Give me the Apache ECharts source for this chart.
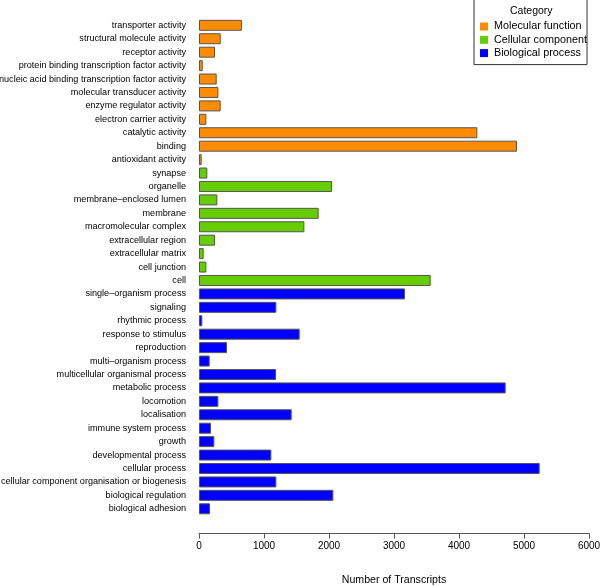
<!DOCTYPE html>
<html>
<head>
<meta charset="utf-8">
<script src="https://cdn.jsdelivr.net/npm/echarts@6/dist/echarts.min.js"></script>
<style>html,body{margin:0;padding:0;background:#fff}#c{width:600px;height:586px}</style>
</head>
<body>
<div id="c"></div>
<script>
const mfCategories = ["transporter activity","structural molecule activity","receptor activity","protein binding transcription factor activity","nucleic acid binding transcription factor activity","molecular transducer activity","enzyme regulator activity","electron carrier activity","catalytic activity","binding","antioxidant activity"];
const mfValues = [660, 334, 246, 57, 272, 298, 333, 113, 4282, 4892, 41];
const ccCategories = ["synapse","organelle","membrane\u2013enclosed lumen","membrane","macromolecular complex","extracellular region","extracellular matrix","cell junction","cell"];
const ccValues = [128, 2046, 282, 1841, 1621, 246, 72, 113, 3564];
const bpCategories = ["single\u2013organism process","signaling","rhythmic process","response to stimulus","reproduction","multi\u2013organism process","multicellular organismal process","metabolic process","locomotion","localisation","immune system process","growth","developmental process","cellular process","cellular component organisation or biogenesis","biological regulation","biological adhesion"];
const bpValues = [3169, 1190, 51, 1549, 431, 164, 1185, 4718, 298, 1426, 185, 236, 1113, 5241, 1190, 2067, 169];
const seriesNames = ["Molecular function","Cellular component","Biological process"];
const seriesColors = ["#FF8C00","#66CD00","#0000FF"];
const xTicks = {min: 0, max: 6000, interval: 1000};

const allCats = mfCategories.concat(ccCategories, bpCategories);
const groups = [[mfCategories, mfValues],[ccCategories, ccValues],[bpCategories, bpValues]];
const series = groups.map((g, gi) => {
  const data = allCats.map(c => {
    const idx = g[0].indexOf(c);
    return idx >= 0 ? g[1][idx] : null;
  });
  return {
    name: seriesNames[gi], type: 'bar', stack: 'all', data: data,
    barWidth: 11,
    itemStyle: {color: seriesColors[gi], borderColor: '#555', borderWidth: 1},
    emphasis: {disabled: true}
  };
});

const FF = 'Liberation Sans, Arial, sans-serif';
const chart = echarts.init(document.getElementById('c'), null, {renderer: 'canvas'});
chart.setOption({
  animation: false,
  backgroundColor: '#fff',
  textStyle: {fontFamily: FF},
  grid: {left: 199, right: 11, top: 18.6, bottom: 70.5, containLabel: false, outerBoundsMode: 'none'},
  title: {text: 'Category', left: 505, top: 1, textStyle: {fontSize: 10.5, fontWeight: 'normal', color: '#000', fontFamily: FF}},
  legend: {
    orient: 'vertical', left: 474, top: -1, data: seriesNames,
    borderColor: '#333', borderWidth: 1, padding: [22, 0, 6, 6],
    itemWidth: 8, itemHeight: 8, itemGap: 2.3, icon: 'rect',
    itemStyle: {borderWidth: 0},
    textStyle: {fontSize: 10.8, color: '#000', fontFamily: FF, padding: [0,0,0,1]},
    selectedMode: false
  },
  xAxis: {
    type: 'value', min: xTicks.min, max: xTicks.max, interval: xTicks.interval,
    offset: 18,
    axisLine: {show: true, lineStyle: {color: '#555', width: 1}},
    axisTick: {show: true, length: 5, lineStyle: {color: '#555'}},
    splitLine: {show: false},
    axisLabel: {fontSize: 10, color: '#000', margin: 8, formatter: v => String(v)},
    name: 'Number of Transcripts', nameLocation: 'middle', nameGap: 41,
    nameTextStyle: {fontSize: 10.6, color: '#000'}
  },
  yAxis: {
    type: 'category', data: allCats, inverse: true,
    axisLine: {show: false}, axisTick: {show: false},
    axisLabel: {fontSize: 9.1, color: '#000', margin: 13, interval: 0}
  },
  series: series
});
</script>
</body>
</html>
